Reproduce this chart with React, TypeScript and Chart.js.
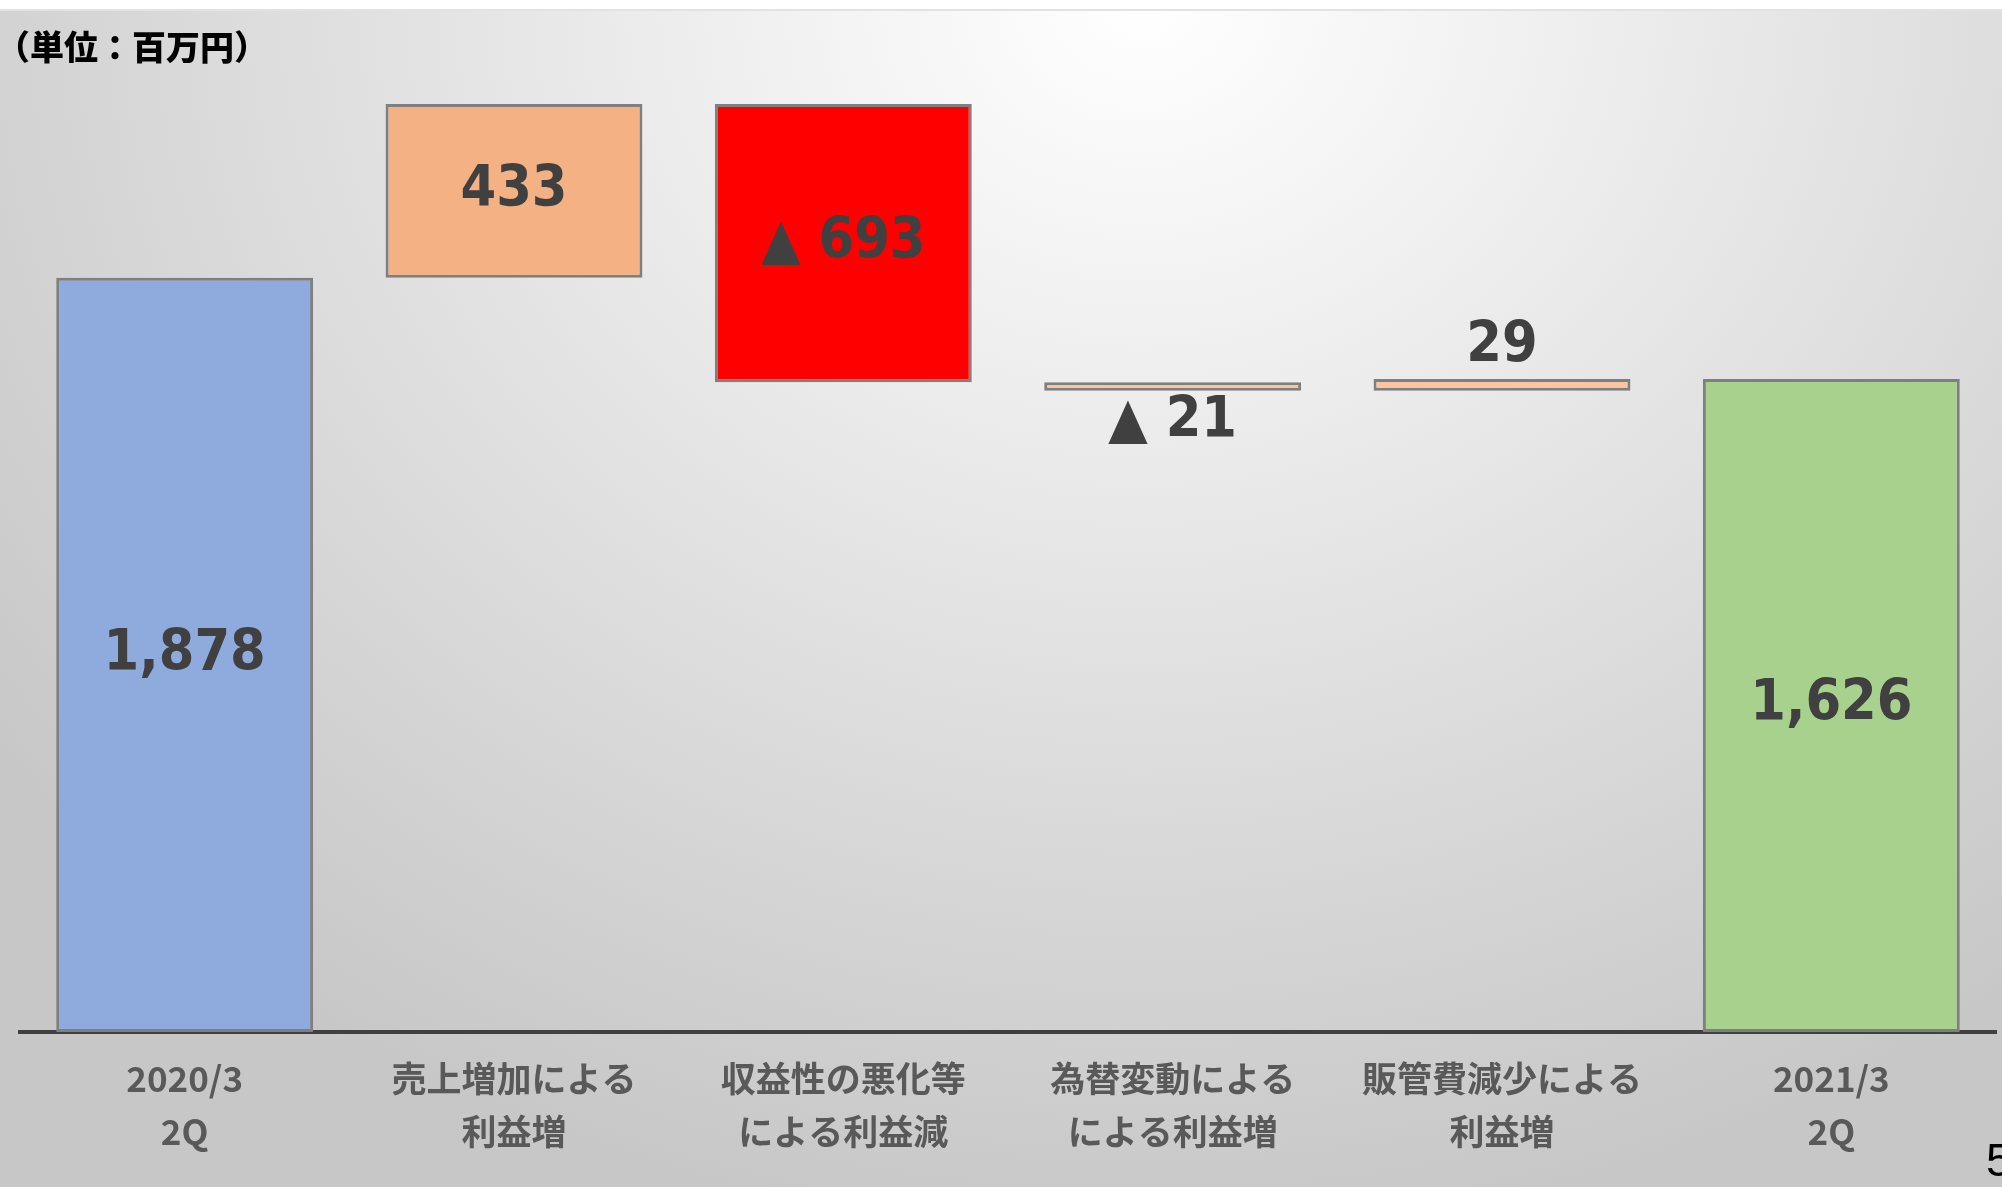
import React, { useEffect, useRef } from "react";
import { Chart, registerables } from "chart.js";

Chart.register(...registerables);

// ---- data ----
const categories: string[][] = [
  ["2020/3", "2Q"],
  ["売上増加による", "利益増"],
  ["収益性の悪化等", "による利益減"],
  ["為替変動による", "による利益増"],
  ["販管費減少による", "利益増"],
  ["2021/3", "2Q"],
];
const startValue = 1878;
const changes = [433, -693, -21, 29];
const endValue = 1626;
const yMax = 2500;

// ---- styles ----
const barColors = ["#8faadc", "#f4b183", "#ff0000", "#f8c6a3", "#f8c6a3", "#a9d18e"];
const labelPlacement = ["inside", "inside", "inside", "below", "above", "inside"];

function buildRanges(): [number, number][] {
  const out: [number, number][] = [[0, startValue]];
  let run = startValue;
  for (const c of changes) {
    out.push([run, run + c]);
    run += c;
  }
  out.push([0, endValue]);
  return out;
}

function fmt(v: number, isDelta: boolean): string {
  const s = Math.abs(v).toLocaleString("en-US");
  if (isDelta && v < 0) return "▲ " + s;
  return s;
}

const labelTexts: string[] = [
  fmt(startValue, false),
  ...changes.map((c) => fmt(c, true)),
  fmt(endValue, false),
];

const valueLabelPlugin = {
  id: "valueLabels",
  afterDatasetsDraw(chart: any) {
    const ctx = chart.ctx;
    const meta = chart.getDatasetMeta(0);
    ctx.save();
    ctx.font = "bold 57px 'DejaVu Sans Condensed', 'DejaVu Sans', sans-serif";
    ctx.fillStyle = "#404040";
    ctx.textAlign = "center";
    ctx.textBaseline = "middle";
    meta.data.forEach((el: any, i: number) => {
      const top = Math.min(el.y, el.base);
      const bottom = Math.max(el.y, el.base);
      let cy = (top + bottom) / 2;
      if (labelPlacement[i] === "below") cy = bottom + 32;
      if (labelPlacement[i] === "above") cy = top - 32;
      ctx.fillText(labelTexts[i], el.x, cy);
    });
    ctx.restore();
  },
};

export default function App() {
  const canvasRef = useRef<HTMLCanvasElement | null>(null);

  useEffect(() => {
    document.body.style.margin = "0";
    const canvas = canvasRef.current;
    if (!canvas) return;
    const chart = new Chart(canvas, {
      type: "bar",
      data: {
        labels: categories,
        datasets: [
          {
            data: buildRanges() as any,
            backgroundColor: barColors,
            borderColor: "#7f7f7f",
            borderWidth: 3,
            borderSkipped: false,
            categoryPercentage: 1,
            barPercentage: 0.78,
          },
        ],
      },
      options: {
        responsive: false,
        animation: false,
        devicePixelRatio: 1,
        layout: { padding: { left: 20, right: 6, top: 28, bottom: 0 } },
        plugins: {
          legend: { display: false },
          tooltip: { enabled: false },
          title: { display: false },
        },
        scales: {
          x: {
            grid: { display: false, drawTicks: false },
            border: { display: true, color: "#404040", width: 4 },
            ticks: {
              color: "#595959",
              padding: 21,
              maxRotation: 0,
              autoSkip: false,
              font: {
                family: "'Noto Sans CJK JP', sans-serif",
                size: 35,
                weight: "bold",
                lineHeight: 1.49,
              },
            },
            afterFit: (scale: any) => {
              scale.height = 155;
            },
          },
          y: {
            display: false,
            min: 0,
            max: yMax,
          },
        },
      },
      plugins: [valueLabelPlugin],
    });
    return () => chart.destroy();
  }, []);

  return (
    <div
      style={{
        position: "absolute",
        left: 0,
        top: 0,
        width: 2002,
        height: 1187,
        overflow: "hidden",
        background:
          "radial-gradient(ellipse 72% 105% at 57% 0%, #ffffff 0%, #f3f3f3 22%, #e3e3e3 50%, #d3d3d3 78%, #c7c7c7 100%)",
      }}
    >
      <div
        style={{
          position: "absolute",
          left: 0,
          top: 0,
          width: 2002,
          height: 9,
          background: "#ffffff",
          borderBottom: "2px solid #e2e2e2",
        }}
      />
      <canvas
        ref={canvasRef}
        width={2002}
        height={1187}
        style={{ position: "absolute", left: 0, top: 0, width: 2002, height: 1187 }}
      />
      <div
        style={{
          position: "absolute",
          left: -4,
          top: 24,
          fontFamily: "'Noto Sans CJK JP', sans-serif",
          fontWeight: 900,
          fontSize: 34,
          lineHeight: "44px",
          color: "#000000",
          whiteSpace: "nowrap",
        }}
      >
        （単位：百万円）
      </div>
      <div
        style={{
          position: "absolute",
          left: 1986,
          top: 1132,
          fontFamily: "'Liberation Sans', sans-serif",
          fontSize: 46,
          lineHeight: "56px",
          color: "#000000",
        }}
      >
        5
      </div>
    </div>
  );
}
